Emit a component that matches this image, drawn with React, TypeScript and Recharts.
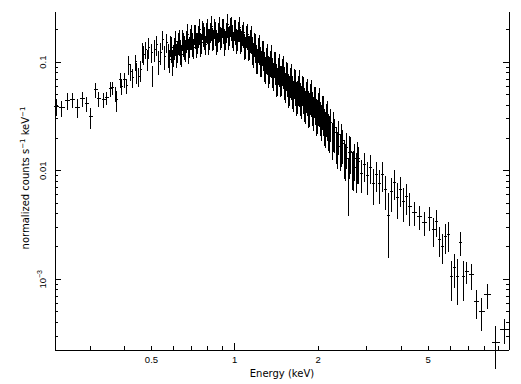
import { ScatterChart, Scatter, XAxis, YAxis, ErrorBar } from 'recharts';

// soft band, 0.22 - 0.57 keV
const softEnergy = [0.227, 0.237, 0.249, 0.26, 0.271, 0.282, 0.292, 0.302, 0.315, 0.322, 0.336, 0.345, 0.356, 0.362, 0.371, 0.375, 0.387, 0.391, 0.4, 0.407, 0.414, 0.421, 0.428, 0.439, 0.442, 0.45, 0.457, 0.465, 0.469, 0.477, 0.485, 0.489, 0.501, 0.505, 0.514, 0.522, 0.531, 0.54, 0.549, 0.558, 0.568];
const softFlux = [0.0387, 0.0379, 0.044, 0.0449, 0.0379, 0.0459, 0.0413, 0.0313, 0.0555, 0.0459, 0.0449, 0.0469, 0.0567, 0.058, 0.051, 0.0449, 0.0687, 0.0592, 0.0687, 0.0605, 0.0944, 0.0814, 0.0717, 0.1006, 0.0814, 0.0732, 0.0849, 0.124, 0.117, 0.13, 0.107, 0.138, 0.122, 0.0764, 0.13, 0.144, 0.101, 0.122, 0.161, 0.112, 0.151];
const softErr = [0.18, 0.17, 0.17, 0.15, 0.2, 0.15, 0.15, 0.22, 0.16, 0.15, 0.15, 0.14, 0.15, 0.14, 0.15, 0.22, 0.16, 0.16, 0.15, 0.16, 0.2, 0.17, 0.2, 0.17, 0.22, 0.2, 0.22, 0.2, 0.2, 0.18, 0.22, 0.2, 0.2, 0.22, 0.22, 0.2, 0.25, 0.22, 0.2, 0.25, 0.2];

// peak, 0.58 - 2.8 keV
const peakEnergy = [
  0.577, 0.587, 0.597, 0.607, 0.617, 0.627, 0.638, 0.648, 0.659, 0.67,
  0.682, 0.693, 0.705, 0.717, 0.729, 0.741, 0.753, 0.766, 0.779, 0.792,
  0.805, 0.819, 0.832, 0.846, 0.861, 0.875, 0.89, 0.905, 0.92, 0.935,
  0.951, 0.967, 0.983, 1.0, 1.017, 1.034, 1.051, 1.069, 1.087, 1.105,
  1.124, 1.143, 1.162, 1.182, 1.201, 1.221, 1.242, 1.263, 1.284, 1.306,
  1.327, 1.35, 1.372, 1.395, 1.419, 1.442, 1.467, 1.491, 1.516, 1.542,
  1.568, 1.594, 1.621, 1.648, 1.676, 1.704, 1.733, 1.762, 1.791, 1.821,
  1.852, 1.883, 1.915, 1.947, 1.98, 2.012, 2.046, 2.081, 2.116, 2.151,
  2.187, 2.224, 2.261, 2.299, 2.338, 2.377, 2.417, 2.458, 2.499, 2.541,
  2.583, 2.627, 2.671, 2.716, 2.761, 2.808,
];
const peakFlux = [
  0.1168, 0.1443, 0.1028, 0.1355, 0.1168, 0.1506, 0.1271, 0.1639, 0.1384, 0.1571,
  0.1298, 0.1675, 0.1474, 0.1823, 0.1474, 0.1748, 0.1474, 0.1985, 0.1711, 0.19,
  0.1571, 0.19, 0.1675, 0.2072, 0.1571, 0.19, 0.1711, 0.2072, 0.1571, 0.19,
  0.1711, 0.2116, 0.1785, 0.2028, 0.1605, 0.1943, 0.1605, 0.1823, 0.1443, 0.1748,
  0.1384, 0.1605, 0.1298, 0.1474, 0.1119, 0.1326, 0.105, 0.1244, 0.0944, 0.1073,
  0.0849, 0.1006, 0.0831, 0.0985, 0.0717, 0.0849, 0.0702, 0.0831, 0.0673, 0.078,
  0.058, 0.0673, 0.0555, 0.0658, 0.049, 0.0567, 0.0479, 0.0567, 0.043, 0.05,
  0.0396, 0.0479, 0.0396, 0.0449, 0.0334, 0.0387, 0.032, 0.0363, 0.027, 0.0307,
  0.0243, 0.0276, 0.0201, 0.0223, 0.0184, 0.0214, 0.0159, 0.0177, 0.0137, 0.0163,
  0.0085, 0.0149, 0.0108, 0.0129, 0.0104, 0.0121,
];
const peakErr = [
  0.25, 0.22, 0.27, 0.22, 0.25, 0.23, 0.26, 0.22, 0.25, 0.23,
  0.26, 0.22, 0.25, 0.21, 0.26, 0.22, 0.25, 0.2, 0.24, 0.21,
  0.26, 0.21, 0.24, 0.2, 0.26, 0.21, 0.24, 0.2, 0.27, 0.21,
  0.24, 0.2, 0.24, 0.21, 0.26, 0.21, 0.26, 0.22, 0.27, 0.22,
  0.26, 0.24, 0.28, 0.25, 0.3, 0.26, 0.3, 0.26, 0.31, 0.27,
  0.32, 0.27, 0.31, 0.27, 0.33, 0.28, 0.32, 0.28, 0.33, 0.3,
  0.35, 0.3, 0.33, 0.31, 0.35, 0.31, 0.34, 0.31, 0.35, 0.32,
  0.37, 0.32, 0.35, 0.32, 0.37, 0.33, 0.35, 0.34, 0.37, 0.34,
  0.37, 0.34, 0.38, 0.35, 0.37, 0.35, 0.38, 0.35, 0.39, 0.37,
  0.55, 0.37, 0.39, 0.37, 0.4, 0.37,
];

// 2.9 - 4.3 keV
const midEnergy = [2.879, 2.952, 3.027, 3.103, 3.182, 3.262, 3.345, 3.429, 3.516, 3.605, 3.696, 3.79, 3.886, 3.984, 4.084, 4.188, 4.293];
const midFlux = [0.00936, 0.0113, 0.00897, 0.0108, 0.00757, 0.00916, 0.00757, 0.00916, 0.00667, 0.0039, 0.00639, 0.00773, 0.00563, 0.00667, 0.00516, 0.00575, 0.00465];
const midErr = [0.33, 0.3, 0.33, 0.3, 0.36, 0.3, 0.35, 0.3, 0.35, 0.6, 0.35, 0.3, 0.36, 0.3, 0.35, 0.32, 0.33];

// hard tail, 4.5 - 9.5 keV
const hardEnergy = [4.476, 4.667, 4.865, 5.072, 5.24, 5.38, 5.51, 5.65, 5.79, 5.94, 6.09, 6.25, 6.4, 6.56, 6.73, 6.9, 7.19, 7.5, 7.82, 8.22, 8.79, 9.47];
const hardFlux = [0.00409, 0.00376, 0.00331, 0.00368, 0.00285, 0.00338, 0.00231, 0.00199, 0.00246, 0.00257, 0.00105, 0.00127, 0.00105, 0.00217, 0.00105, 0.00117, 0.0011, 0.000618, 0.0005, 0.000717, 0.00026, 0.000341];
const hardErr = [0.25, 0.25, 0.25, 0.25, 0.3, 0.28, 0.3, 0.3, 0.3, 0.3, 0.4, 0.35, 0.45, 0.25, 0.4, 0.22, 0.27, 0.3, 0.33, 0.25, 0.43, 0.25];

// second spectrum, overlapping the peak
const secondEnergy = [
  0.582, 0.592, 0.602, 0.612, 0.622, 0.632, 0.643, 0.653, 0.664, 0.676,
  0.687, 0.699, 0.711, 0.723, 0.735, 0.747, 0.76, 0.772, 0.785, 0.799,
  0.812, 0.825, 0.839, 0.853, 0.868, 0.882, 0.897, 0.912, 0.927, 0.943,
  0.959, 0.975, 0.991, 1.008, 1.025, 1.042, 1.06, 1.078, 1.096, 1.114,
  1.133, 1.152, 1.172, 1.191, 1.211, 1.232, 1.252, 1.273, 1.295, 1.317,
  1.338, 1.361, 1.383, 1.407, 1.43, 1.454, 1.479, 1.503, 1.529, 1.555,
  1.581, 1.607, 1.634, 1.662, 1.69, 1.718, 1.747, 1.776, 1.806, 1.836,
  1.867, 1.899, 1.931, 1.963, 1.996, 2.029, 2.063, 2.098, 2.133, 2.169,
  2.205, 2.28, 2.357, 2.437, 2.52, 2.605, 2.693, 2.784,
];
const secondFlux = [
  0.105, 0.1355, 0.1168, 0.1538, 0.1271, 0.1571, 0.1168, 0.1474, 0.1298, 0.1785,
  0.1413, 0.1748, 0.1355, 0.1748, 0.1538, 0.1985, 0.1506, 0.1823, 0.1443, 0.1985,
  0.1675, 0.2116, 0.1639, 0.1862, 0.1538, 0.2072, 0.1711, 0.1985, 0.1605, 0.221,
  0.1785, 0.2072, 0.1571, 0.1943, 0.1639, 0.2072, 0.1605, 0.1862, 0.1384, 0.1785,
  0.1384, 0.1675, 0.1193, 0.1413, 0.105, 0.1355, 0.1006, 0.1193, 0.0867, 0.1119,
  0.0867, 0.1073, 0.0764, 0.0924, 0.0687, 0.0886, 0.0702, 0.0849, 0.0605, 0.0732,
  0.0567, 0.0702, 0.051, 0.0618, 0.05, 0.0618, 0.0449, 0.0532, 0.0404, 0.051,
  0.0387, 0.05, 0.0355, 0.043, 0.0334, 0.0413, 0.0294, 0.0348, 0.0253, 0.0313,
  0.0233, 0.0248, 0.0166, 0.0188, 0.0129, 0.0146, 0.0108, 0.0129,
];
const secondErr = [
  0.24, 0.27, 0.22, 0.26, 0.23, 0.27, 0.22, 0.25, 0.23, 0.27,
  0.22, 0.26, 0.21, 0.25, 0.22, 0.27, 0.21, 0.25, 0.2, 0.26,
  0.22, 0.26, 0.21, 0.25, 0.2, 0.26, 0.21, 0.26, 0.2, 0.25,
  0.21, 0.25, 0.2, 0.26, 0.22, 0.26, 0.22, 0.27, 0.23, 0.27,
  0.25, 0.29, 0.26, 0.3, 0.26, 0.31, 0.27, 0.31, 0.28, 0.32,
  0.28, 0.33, 0.29, 0.33, 0.29, 0.34, 0.3, 0.34, 0.31, 0.35,
  0.31, 0.36, 0.32, 0.36, 0.33, 0.37, 0.33, 0.37, 0.34, 0.38,
  0.34, 0.38, 0.35, 0.38, 0.35, 0.39, 0.36, 0.4, 0.36, 0.4,
  0.38, 0.4, 0.38, 0.42, 0.38, 0.42, 0.4, 0.42,
];

const xTicks = [0.3, 0.4, 0.5, 0.6, 0.7, 0.8, 0.9, 1, 2, 3, 4, 5, 6, 7, 8, 9];
const xLabelled = [0.5, 1, 2, 5];
const yTicks = [
  0.0003, 0.0004, 0.0005, 0.0006, 0.0007, 0.0008, 0.0009,
  0.001, 0.002, 0.003, 0.004, 0.005, 0.006, 0.007, 0.008, 0.009,
  0.01, 0.02, 0.03, 0.04, 0.05, 0.06, 0.07, 0.08, 0.09,
  0.1, 0.2,
];
const yDecades = [0.001, 0.01, 0.1];

// channel bins are contiguous: half width = half the spacing to neighbours
const toPoints = (energy: number[], flux: number[], relErr: number[]) =>
  energy.map((e, i) => {
    const n = energy.length;
    const halfW = i === 0 ? (energy[1] - e) / 2 : i === n - 1 ? (e - energy[n - 2]) / 2 : (energy[i + 1] - energy[i - 1]) / 4;
    return { e, f: flux[i], ex: halfW, ey: flux[i] * relErr[i] };
  });

const firstData = toPoints(
  [...softEnergy, ...peakEnergy, ...midEnergy, ...hardEnergy],
  [...softFlux, ...peakFlux, ...midFlux, ...hardFlux],
  [...softErr, ...peakErr, ...midErr, ...hardErr],
);
const secondData = toPoints(secondEnergy, secondFlux, secondErr);

const tickFont = 'Liberation Sans, Arial, sans-serif';
const titleFont = 'DejaVu Sans, sans-serif';

const BottomTick = ({ x, y, payload }: any) => {
  const v = payload.value;
  return (
    <g>
      <line x1={x} x2={x} y1={y} y2={y - (v === 1 ? 7 : 4)} stroke="#000" />
      {xLabelled.includes(v) && (
        <text x={x} y={y + 13} textAnchor="middle" fontSize={9.5} fontFamily={tickFont} fill="#000">{v}</text>
      )}
    </g>
  );
};

const TopTick = ({ x, y, payload }: any) => (
  <line x1={x} x2={x} y1={y} y2={y + (payload.value === 1 ? 7 : 4)} stroke="#000" />
);

const yLabel = (v: number) => {
  if (v === 0.001) return <>10<tspan dy={-4} fontSize={7}>−3</tspan></>;
  return String(v);
};

const LeftTick = ({ x, y, payload }: any) => {
  const v = payload.value;
  const major = yDecades.includes(v);
  return (
    <g>
      <line x1={x} x2={x + (major ? 6 : 3)} y1={y} y2={y} stroke="#000" />
      {major && (
        <text x={x - 9} y={y} transform={`rotate(-90 ${x - 9} ${y})`} textAnchor="middle" fontSize={9.5} fontFamily={tickFont} fill="#000">
          {yLabel(v)}
        </text>
      )}
    </g>
  );
};

const RightTick = ({ x, y, payload }: any) => (
  <line x1={x} x2={x - (yDecades.includes(payload.value) ? 6 : 3)} y1={y} y2={y} stroke="#000" />
);

const hidden = () => <g />;

export default function App() {
  return (
    <div style={{ position: 'absolute', left: 0, top: 0, width: 521, height: 384, background: '#fff' }}>
      <style>{'.recharts-surface line, .recharts-surface path { shape-rendering: crispEdges; }'}</style>
      <ScatterChart width={521} height={384} margin={{ top: 12, right: 0, bottom: 0, left: 0 }}>
        <XAxis xAxisId="b" dataKey="e" type="number" scale="log" domain={[0.224, 9.8]} allowDataOverflow
          orientation="bottom" height={34} ticks={xTicks} interval={0} tickSize={0} tickMargin={0}
          tickLine={false} axisLine={{ stroke: '#000' }} tick={(p: any) => <BottomTick {...p} />} />
        <XAxis xAxisId="t" dataKey="e" type="number" scale="log" domain={[0.224, 9.8]} allowDataOverflow
          orientation="top" height={0} ticks={xTicks} interval={0} tickSize={0} tickMargin={0}
          tickLine={false} axisLine={{ stroke: '#000' }} tick={(p: any) => <TopTick {...p} />} />
        <YAxis yAxisId="l" dataKey="f" type="number" scale="log" domain={[0.000223, 0.29]} allowDataOverflow
          orientation="left" width={55} ticks={yTicks} interval={0} tickSize={0} tickMargin={0}
          tickLine={false} axisLine={{ stroke: '#000' }} tick={(p: any) => <LeftTick {...p} />} />
        <YAxis yAxisId="r" dataKey="f" type="number" scale="log" domain={[0.000223, 0.29]} allowDataOverflow
          orientation="right" width={12} ticks={yTicks} interval={0} tickSize={0} tickMargin={0}
          tickLine={false} axisLine={{ stroke: '#000' }} tick={(p: any) => <RightTick {...p} />} />
        <Scatter data={firstData} xAxisId="t" yAxisId="r" shape={hidden} isAnimationActive={false} />
        <Scatter data={firstData} xAxisId="b" yAxisId="l" shape={hidden} isAnimationActive={false}>
          <ErrorBar dataKey="ey" direction="y" width={0} stroke="#000" strokeWidth={1} isAnimationActive={false} />
          <ErrorBar dataKey="ex" direction="x" width={0} stroke="#000" strokeWidth={1} isAnimationActive={false} />
        </Scatter>
        <Scatter data={secondData} xAxisId="b" yAxisId="l" shape={hidden} isAnimationActive={false}>
          <ErrorBar dataKey="ey" direction="y" width={0} stroke="#000" strokeWidth={1} isAnimationActive={false} />
          <ErrorBar dataKey="ex" direction="x" width={0} stroke="#000" strokeWidth={1} isAnimationActive={false} />
        </Scatter>
      </ScatterChart>
      <svg width={521} height={384} style={{ position: 'absolute', left: 0, top: 0, pointerEvents: 'none' }}>
        <text x={282} y={377} textAnchor="middle" fontSize={10} fontFamily={titleFont} fill="#000">Energy (keV)</text>
        <text x={29} y={178} transform="rotate(-90 29 178)" textAnchor="middle" fontSize={10} fontFamily={titleFont} fill="#000">
          normalized counts  s<tspan dy={-4} fontSize={7}>−1</tspan><tspan dy={4}>{'  keV'}</tspan><tspan dy={-4} fontSize={7}>−1</tspan>
        </text>
      </svg>
    </div>
  );
}
